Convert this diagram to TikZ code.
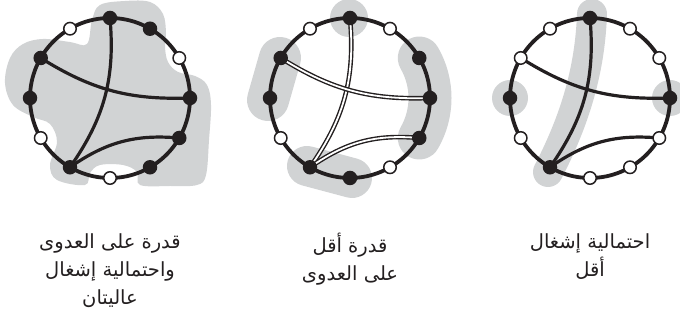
\documentclass[tikz,border=0pt]{standalone}
\usepackage{fontspec}
\newfontfamily\arabicfont[Script=Arabic]{DejaVu Sans}
\TeXXeTstate=1
\pgfdeclarelayer{shade}
\pgfdeclarelayer{lines}
\pgfsetlayers{shade,lines,main}
\definecolor{shadegray}{RGB}{209,211,212}
\definecolor{ink}{RGB}{35,31,32}
\begin{document}
\begin{tikzpicture}[x=1pt,y=1pt,
  rim/.style={draw=ink, line width=3.8pt},
  chordline/.style={draw=ink, line width=3.2pt},
  dchord/.style={draw=ink, line width=1.4pt, double=white, double distance=1.8pt},
  bnode/.style={circle, fill=ink, inner sep=0pt, minimum size=14.5pt},
  wnode/.style={circle, draw=ink, fill=white, line width=1.5pt, inner sep=0pt, minimum size=12.5pt},
  shadeband/.style={draw=shadegray, line cap=round},
  arlabel/.style={font=\arabicfont\fontsize{19.5}{28}\selectfont, text=ink, align=center, anchor=north, inner sep=0pt}
]
\useasboundingbox (0,0) rectangle (680,328);

% ---------- grey shading ----------
\begin{pgfonlayer}{shade}
\clip (0,0) rectangle (680,328);
% circle 1 blob
\fill[shadegray] plot[smooth cycle, tension=0.6] coordinates {
 (100,323) (125,327) (150,326) (163,314) (166,295) (165,281) (168,266)
 (178,256) (195,252) (207,243) (211,223) (209,188) (206,153) (197,143)
 (170,142) (140,143) (137,156) (123,163) (100,163) (90,155) (85,143)
 (57,148) (50,163) (57,186) (50,204) (33,211) (13,223) (5,245)
 (10,270) (23,284) (43,289) (70,286) (87,284) (92,308)};
% circle 2 groups
\fill[shadegray] (349,310) circle[radius=19];
\draw[shadeband, line width=42pt] (280,270) -- (268,228);
\draw[shadeband, line width=43pt] (350,230) ++(30:80) arc[start angle=30, end angle=-30, radius=80];
\draw[shadeband, line width=40pt] (307,162) -- (352,150);
% circle 3 groups
\draw[shadeband, line width=30pt] (592,314) .. controls (590,258) and (575,208) .. (548,156);
\fill[shadegray] (510,230) circle[radius=18];
\fill[shadegray] (670,230) circle[radius=18];
\end{pgfonlayer}

% ---------- circle 1 ----------
\begin{scope}[shift={(110,230)}]
\foreach \a/\s in {0/bnode,30/wnode,60/bnode,90/bnode,120/wnode,150/bnode,
                   180/bnode,210/wnode,240/bnode,270/wnode,300/bnode,330/bnode}
  \node[\s] (A\a) at (\a:80) {};
\end{scope}
\begin{pgfonlayer}{lines}
\draw[rim] (110,230) circle[radius=80];
\draw[chordline] (A90.center) to[bend left=20] (A240.center);
\draw[chordline] (A150.center) to[bend right=17] (A0.center);
\draw[chordline] (A240.center) to[bend left=20] (A330.center);
\end{pgfonlayer}

% ---------- circle 2 ----------
\begin{scope}[shift={(350,230)}]
\foreach \a/\s in {0/bnode,30/bnode,60/wnode,90/bnode,120/wnode,150/bnode,
                   180/bnode,210/wnode,240/bnode,270/bnode,300/wnode,330/bnode}
  \node[\s] (B\a) at (\a:80) {};
\end{scope}
\begin{pgfonlayer}{lines}
\draw[rim] (350,230) circle[radius=80];
\draw[dchord] (B90.center) to[bend left=20] (B240.center);
\draw[dchord] (B150.center) to[bend right=17] (B0.center);
\draw[dchord] (B240.center) to[bend left=20] (B330.center);
\end{pgfonlayer}

% ---------- circle 3 ----------
\begin{scope}[shift={(590,230)}]
\foreach \a/\s in {0/bnode,30/wnode,60/wnode,90/bnode,120/wnode,150/wnode,
                   180/bnode,210/wnode,240/bnode,270/wnode,300/wnode,330/wnode}
  \node[\s] (C\a) at (\a:80) {};
\end{scope}
\begin{pgfonlayer}{lines}
\draw[rim] (590,230) circle[radius=80];
\draw[chordline] (C90.center) to[bend left=20] (C240.center);
\draw[chordline] (C150.center) to[bend right=17] (C0.center);
\draw[chordline] (C240.center) to[bend left=20] (C330.center);
\end{pgfonlayer}

% ---------- labels ----------
\node[arlabel] (L1) at (110,95) {\beginR قدرة على العدوى\endR\\\beginR واحتمالية إشغال\endR\\\beginR عاليتان\endR};
\node[arlabel] (L2) at (350,95) {\beginR قدرة أقل\endR\\\beginR على العدوى\endR};
\node[arlabel] (L3) at (590,95) {\beginR احتمالية إشغال\endR\\\beginR أقل\endR};
\end{tikzpicture}
\end{document}
